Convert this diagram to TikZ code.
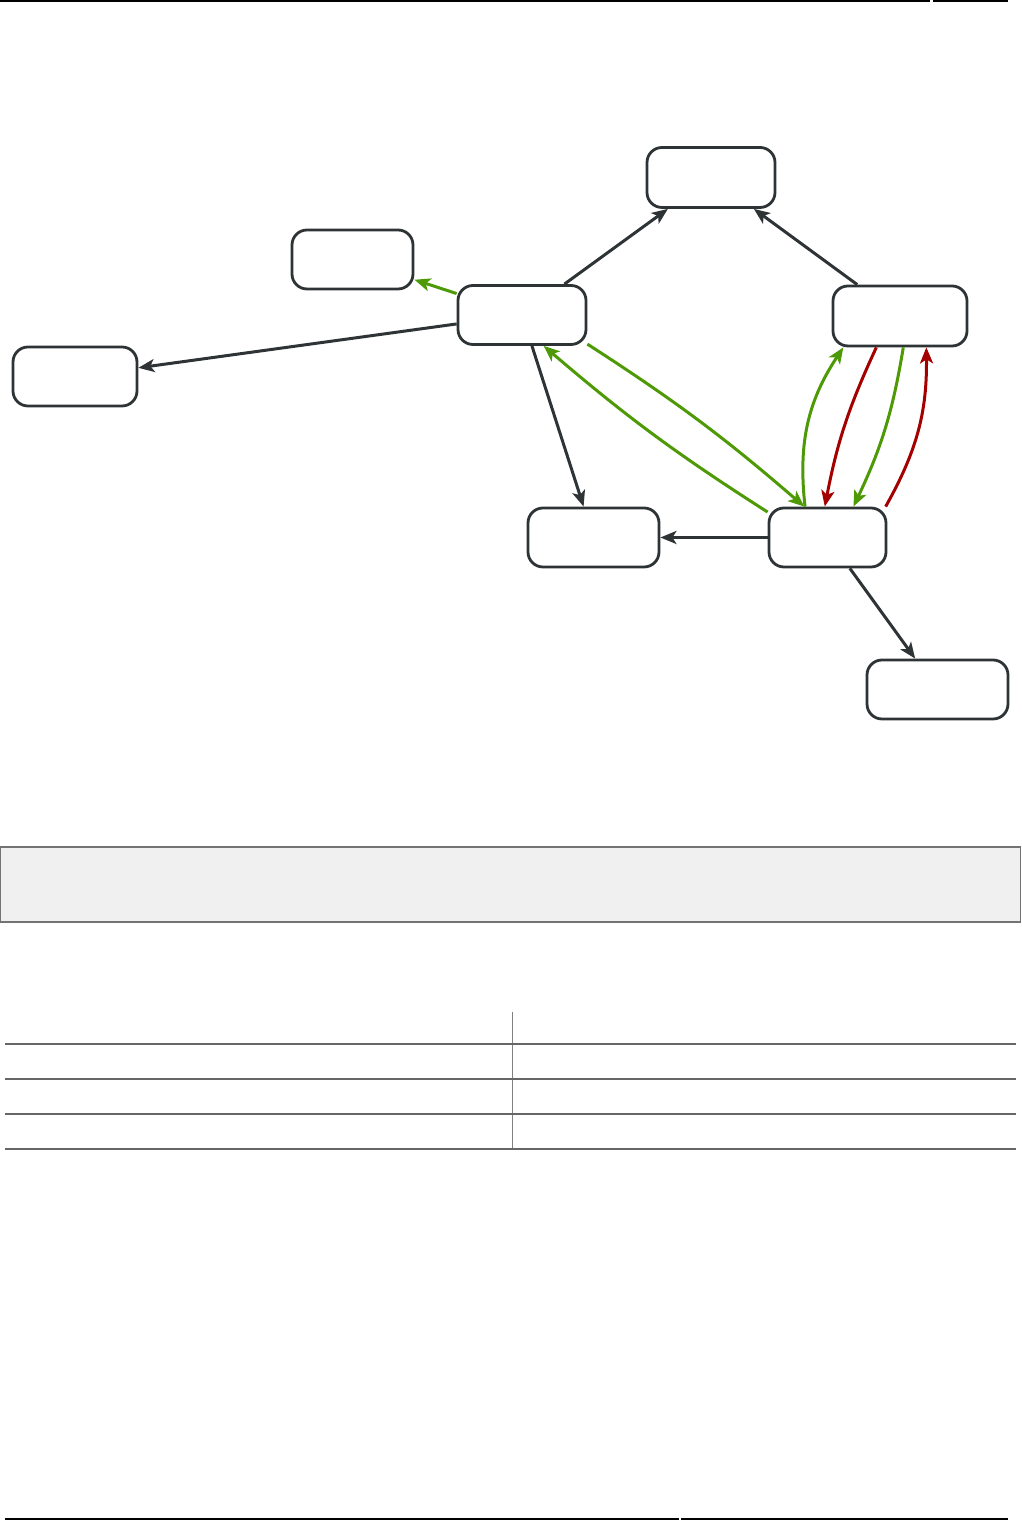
\documentclass[tikz,border=0pt]{standalone}
\usetikzlibrary{arrows.meta}
\definecolor{dk}{HTML}{2E3436}
\definecolor{gr}{HTML}{4E9A06}
\definecolor{rd}{HTML}{A40000}
\begin{document}
\begin{tikzpicture}[x=1pt,y=1pt,
  box/.style={draw=dk,line width=2.8pt,rounded corners=15pt,fill=white,inner sep=0pt},
  tip/.style={-{Stealth[length=16pt,width=13pt,inset=4pt]}},
  darr/.style={draw=dk,line width=3pt,tip},
  garr/.style={draw=gr,line width=3pt,tip},
  rarr/.style={draw=rd,line width=3pt,tip},
  rule/.style={draw=black,line width=2pt},
  tline/.style={draw=black!60,line width=1.4pt}]
\useasboundingbox (0,0) rectangle (1021,1520);
% page rules
\draw[rule] (0,1519) -- (930,1519);
\draw[rule] (933,1519) -- (1008,1519);
\draw[rule] (5,1) -- (679,1);
\draw[rule] (681,1) -- (1008,1);
% nodes
\node[box,minimum width=128pt,minimum height=60pt] (n1) at (711,1342.5) {};
\node[box,minimum width=121pt,minimum height=59pt] (n2) at (352.5,1260.5) {};
\node[box,minimum width=128pt,minimum height=59pt] (n3) at (522,1205) {};
\node[box,minimum width=134pt,minimum height=60pt] (n4) at (900,1204) {};
\node[box,minimum width=124pt,minimum height=59pt] (n5) at (75,1143.5) {};
\node[box,minimum width=131pt,minimum height=59pt] (n6) at (593.5,982.5) {};
\node[box,minimum width=117pt,minimum height=59pt] (n7) at (827.5,982.5) {};
\node[box,minimum width=141pt,minimum height=59pt] (n8) at (937.5,830.5) {};
% connectors
\draw[darr] (n3) -- (n1);
\draw[darr] (n4) -- (n1);
\draw[garr] (n3) -- (n2);
\draw[darr] (n3) -- (n5);
\draw[darr] (n3) -- (n6);
\draw[darr] (n7) -- (n6);
\draw[darr] (n7) -- (n8);
\draw[garr] (n3.-24) to[bend left=4] (n7.127);
\draw[garr] (n7.157) to[bend left=4] (n3.-55);
\draw[garr] (n7.126) to[bend left=20] (n4.209);
\draw[rarr] (n4.-127) to[bend right=7] (n7.95);
\draw[garr] (n4.-84) to[bend left=8] (n7.50);
\draw[rarr] (n7.28) to[bend right=15] (n4.-50);
% grey panel
\draw[draw=black!55,fill=black!6,line width=1.4pt] (0.7,673) rectangle (1020.3,598);
% table
\draw[draw=black!50,line width=0.9pt] (512,508) -- (512,371);
\draw[tline] (5,476) -- (1016,476);
\draw[tline] (5,441) -- (1016,441);
\draw[tline] (5,406) -- (1016,406);
\draw[tline] (5,371) -- (1016,371);
\end{tikzpicture}
\end{document}
